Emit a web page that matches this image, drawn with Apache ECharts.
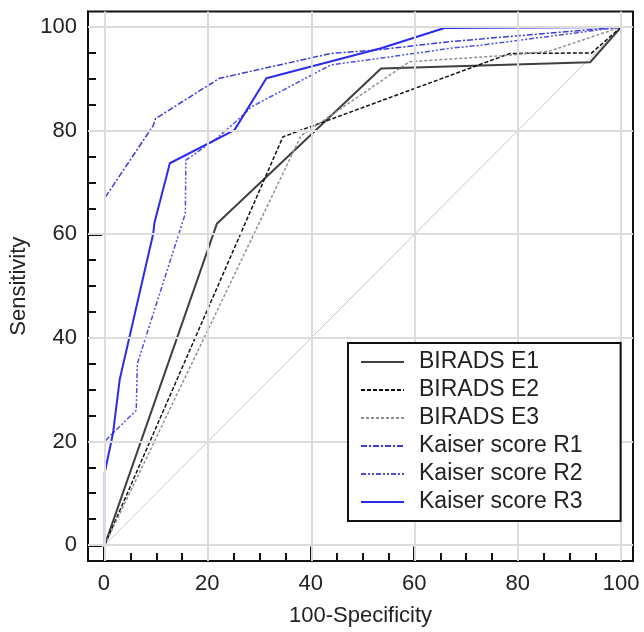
<!DOCTYPE html>
<html>
<head>
<meta charset="utf-8">
<script src="https://cdn.jsdelivr.net/npm/echarts@6/dist/echarts.min.js"></script>
<style>
    html, body { margin: 0; padding: 0; background: #fff; }
    #chart_roc { width: 644px; height: 632px; }
</style>
</head>
<body>
<div id="chart_roc"></div>
<script>
// ROC curves, values (x = 100-Specificity, y = Sensitivity)
var e1X = [0, 21.7, 53.5, 94, 100];
var e1Y = [0, 62, 92, 93.2, 100];

var e2X = [0, 34.5, 78.5, 94.3, 100];
var e2Y = [0, 78.8, 94.9, 95, 100];

var e3X = [0, 38, 59, 79, 86, 100];
var e3Y = [0, 79, 93.3, 94.6, 95.3, 100];

var r1X = [0, 0, 9.4, 9.8, 22.2, 43.8, 52.9, 67, 100];
var r1Y = [0, 67, 81, 82.3, 90.1, 94.9, 95.6, 97.2, 100];

var r2X = [0, 0, 1.6, 6.1, 6.3, 15.6, 15.7, 21.3, 25.8, 28.4, 43.8, 53.5, 67, 72.9, 100];
var r2Y = [0, 20, 21.6, 26, 35, 64, 74.3, 78.2, 82.1, 84.6, 92.7, 94, 95.9, 96.5, 100];

var r3X = [0, 0, 1.6, 2.9, 9.4, 9.6, 12.6, 25.1, 31.3, 53.5, 65.8, 100];
var r3Y = [0, 14, 21.6, 32, 60.2, 62.1, 73.7, 80.1, 90.1, 95.9, 99.8, 100];

var majorTicks = [0, 20, 40, 60, 80, 100];
var minorTicks = [5, 10, 15, 25, 30, 35, 45, 50, 55, 65, 70, 75, 85, 90, 95];
var tickStep = 20;

function pairs(xs, ys) {
    var out = [];
    for (var i = 0; i < xs.length; i++) {
        out.push([xs[i], ys[i]]);
    }
    return out;
}

var myChart = echarts.init(document.getElementById('chart_roc'), null, { renderer: 'canvas' });

var fontName = 'Liberation Sans, Arial, sans-serif';
var gridLine = { color: '#dcdcdc', width: 2, type: 'solid' };
var xLim = { min: -3.25, max: 102.3 };
var yLim = { min: -3.1, max: 103 };
// outer frame box and the inner 0..100 data box
var gridBox = { left: 87, right: 11, top: 11.5, bottom: 70 };
var dataBox = { left: 103.8, right: 22.9, top: 27.06, bottom: 86.6 };
// minor tick length (8px) expressed in axis units
var minorLenX = 8 * (xLim.max - xLim.min) / 546;
var minorLenY = 8 * (yLim.max - yLim.min) / 550.5;

// grid lines at the major ticks, drawn through the axes' own scale
var gridMarks = [];
for (var g = 0; g < majorTicks.length; g++) {
    gridMarks.push({ xAxis: majorTicks[g] });
    gridMarks.push({ yAxis: majorTicks[g] });
}

// minor ticks, inside the frame on the bottom and left axes
var minorMarks = [];
for (var m = 0; m < minorTicks.length; m++) {
    var v = minorTicks[m];
    minorMarks.push([{ coord: [v, yLim.min] }, { coord: [v, yLim.min + minorLenY] }]);
    minorMarks.push([{ coord: [xLim.min, v] }, { coord: [xLim.min + minorLenX, v] }]);
}

// outer axes: frame line and axis names, data is plotted here
function frameAxis(isX) {
    var lim = isX ? xLim : yLim;
    return {
        type: 'value',
        gridIndex: 0,
        min: lim.min,
        max: lim.max,
        position: isX ? 'bottom' : 'left',
        name: isX ? '100-Specificity' : 'Sensitivity',
        nameLocation: 'middle',
        nameGap: isX ? 44 : 58,
        nameTextStyle: { fontFamily: fontName, fontSize: 22, color: '#222' },
        splitLine: { show: false },
        axisLine: { show: true, onZero: false, lineStyle: { color: '#111', width: 2 } },
        axisTick: { show: false },
        axisLabel: { show: false }
    };
}

// tick axes: 0..100 on the inner box, pushed out onto the frame
function tickAxis(isX) {
    return {
        type: 'value',
        gridIndex: 1,
        min: 0,
        max: 100,
        interval: tickStep,
        position: isX ? 'bottom' : 'left',
        offset: isX ? 16.1 : 16.8,
        splitLine: { show: false },
        axisLine: { show: false, onZero: false },
        axisTick: {
            show: true, inside: true, length: 15,
            lineStyle: { color: '#111', width: 2 }
        },
        axisLabel: {
            show: true,
            margin: isX ? 11 : 10,
            fontFamily: fontName, fontSize: 22, color: '#222'
        }
    };
}

function curve(name, xs, ys, color, width, type) {
    return {
        name: name,
        type: 'line',
        xAxisIndex: 0,
        yAxisIndex: 0,
        symbol: 'none',
        silent: true,
        lineStyle: { color: color, width: width, type: type },
        itemStyle: { color: color },
        data: pairs(xs, ys)
    };
}

var option = {
    animation: false,
    grid: [
        Object.assign({ show: true, borderColor: '#111', borderWidth: 2, backgroundColor: '#fff' }, gridBox),
        Object.assign({ show: false }, dataBox)
    ],
    legend: {
        orient: 'vertical',
        left: 348,
        top: 343,
        z: 20,
        backgroundColor: '#fff',
        borderColor: '#111',
        borderWidth: 2,
        borderRadius: 0,
        padding: [7, 38, 7, 12],
        itemWidth: 43,
        itemHeight: 14,
        itemGap: 4,
        selectedMode: false,
        itemStyle: { opacity: 0 },
        textStyle: {
            fontFamily: fontName, fontSize: 23, color: '#222',
            lineHeight: 24, padding: [0, 0, 0, 10]
        },
        data: ['BIRADS E1', 'BIRADS E2', 'BIRADS E3', 'Kaiser score R1', 'Kaiser score R2', 'Kaiser score R3']
    },
    xAxis: [frameAxis(true), tickAxis(true)],
    yAxis: [frameAxis(false), tickAxis(false)],
    series: [
        {
            name: 'ref',
            type: 'line',
            symbol: 'none',
            silent: true,
            z: 1,
            lineStyle: { color: '#c8c8c8', width: 1 },
            data: [[0, 0], [100, 100]],
            markLine: {
                silent: true,
                symbol: ['none', 'none'],
                label: { show: false },
                lineStyle: gridLine,
                data: gridMarks
            }
        },
        curve('BIRADS E1', e1X, e1Y, '#404040', 2, 'solid'),
        curve('BIRADS E2', e2X, e2Y, '#111111', 1.5, [4, 2]),
        curve('BIRADS E3', e3X, e3Y, '#909090', 1.5, [3, 2]),
        curve('Kaiser score R1', r1X, r1Y, '#3a3ad8', 1.5, [6, 2, 2, 2]),
        curve('Kaiser score R2', r2X, r2Y, '#4f4fe0', 1.5, [5, 2, 2, 2, 2, 2]),
        curve('Kaiser score R3', r3X, r3Y, '#2a2af0', 2, 'solid'),
        {
            // minor tick marks on the frame
            name: 'minor',
            type: 'line',
            symbol: 'none',
            silent: true,
            z: 5,
            data: [],
            markLine: {
                silent: true,
                symbol: ['none', 'none'],
                label: { show: false },
                lineStyle: { color: '#111', width: 2, type: 'solid' },
                data: minorMarks
            }
        },
        {
            // empty series so the tick grid is laid out
            name: 'ticks',
            type: 'line',
            xAxisIndex: 1,
            yAxisIndex: 1,
            symbol: 'none',
            silent: true,
            data: []
        }
    ]
};

myChart.setOption(option);
</script>
</body>
</html>
